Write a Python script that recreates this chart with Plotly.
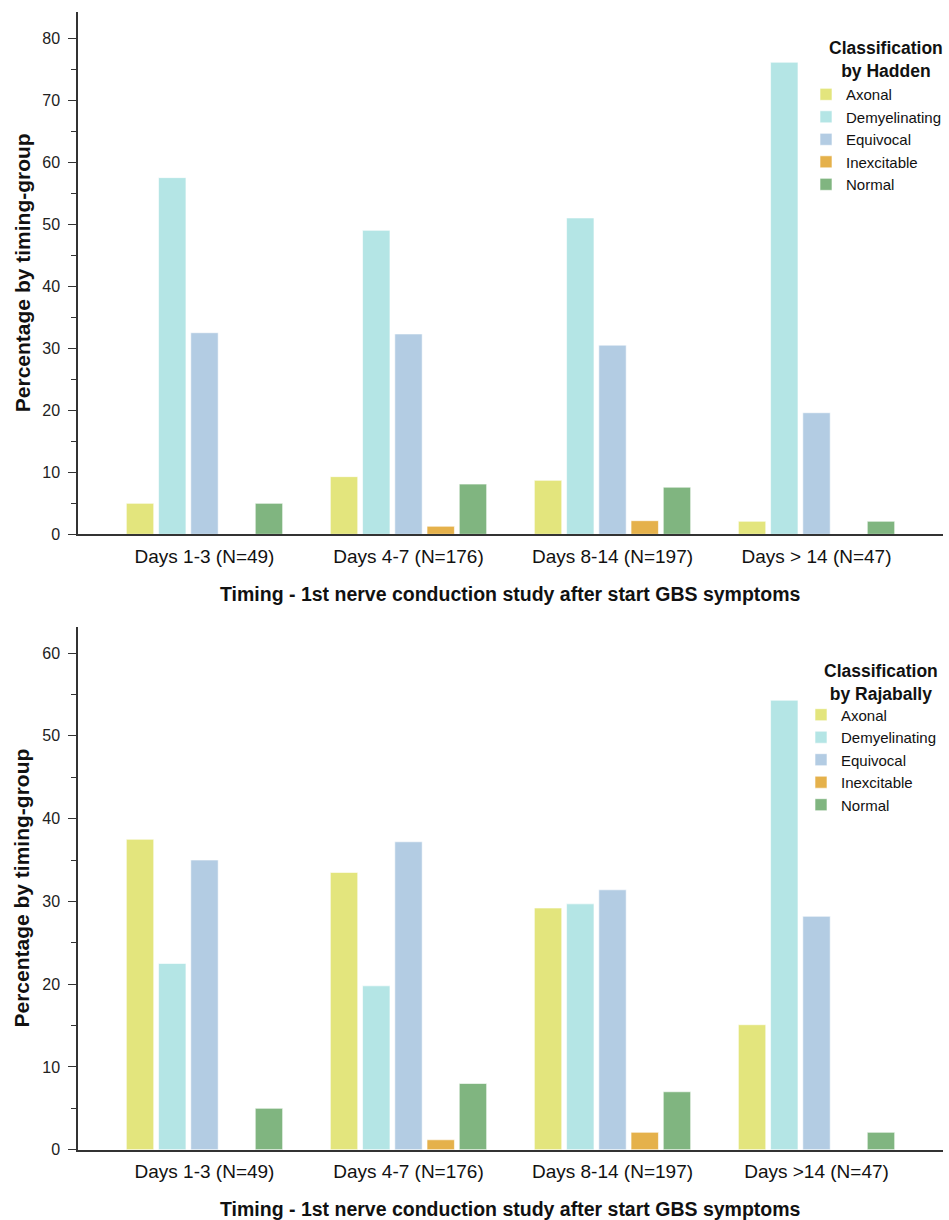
import plotly.graph_objects as go

# ---------------- data ----------------
classes = ["Axonal", "Demyelinating", "Equivocal", "Inexcitable", "Normal"]
colors = ["#E3E57D", "#B4E5E5", "#B3CCE3", "#E5B14B", "#80B580"]

cats_hadden = ["Days 1-3 (N=49)", "Days 4-7 (N=176)", "Days 8-14 (N=197)", "Days > 14 (N=47)"]
cats_rajabally = ["Days 1-3 (N=49)", "Days 4-7 (N=176)", "Days 8-14 (N=197)", "Days >14 (N=47)"]

hadden_axonal = [5.0, 9.3, 8.7, 2.1]
hadden_demyelinating = [57.5, 49.0, 51.0, 76.1]
hadden_equivocal = [32.5, 32.3, 30.5, 19.6]
hadden_inexcitable = [0, 1.3, 2.2, 0]
hadden_normal = [5.0, 8.1, 7.6, 2.1]

raja_axonal = [37.5, 33.5, 29.2, 15.1]
raja_demyelinating = [22.5, 19.8, 29.7, 54.3]
raja_equivocal = [35.0, 37.2, 31.4, 28.2]
raja_inexcitable = [0, 1.2, 2.1, 0]
raja_normal = [5.0, 8.0, 7.0, 2.1]

hadden = [hadden_axonal, hadden_demyelinating, hadden_equivocal, hadden_inexcitable, hadden_normal]
raja = [raja_axonal, raja_demyelinating, raja_equivocal, raja_inexcitable, raja_normal]

x_title = "Timing - 1st nerve conduction study after start GBS symptoms"
y_title = "Percentage by timing-group"
legend_title_top = "Classification<br>by Hadden"
legend_title_bottom = "Classification<br>by Rajabally"

# ---------------- figure ----------------
W, H = 949, 1220
VS = 0.992  # observed vertical scale of the rendered page
FONT = "Liberation Sans, Arial, Helvetica, sans-serif"

fig = go.Figure()
for name, col, vals in zip(classes, colors, hadden):
    fig.add_trace(go.Bar(x=cats_hadden, y=vals, name=name, marker_color=col,
                         marker_line=dict(color="rgba(255,255,255,0.6)", width=1),
                         xaxis="x", yaxis="y", legend="legend"))
for name, col, vals in zip(classes, colors, raja):
    fig.add_trace(go.Bar(x=cats_rajabally, y=vals, name=name, marker_color=col,
                         marker_line=dict(color="rgba(255,255,255,0.6)", width=1),
                         xaxis="x2", yaxis="y2", legend="legend2"))

def px_y(p):
    return 1 - (p / VS) / H

xdom = [78 / W, 943 / W]
axis_line = dict(showline=True, linecolor="#333333", linewidth=1.5)

yaxis_common = dict(
    **axis_line, showgrid=False, zeroline=False,
    ticks="outside", ticklen=8, tickwidth=1, tickcolor="#333333",
    dtick=10, tick0=0,
    minor=dict(ticks="outside", ticklen=5, dtick=5, tickcolor="#333333", tickwidth=1),
    tickfont=dict(size=16, color="#222222", family=FONT),
    ticklabelstandoff=5,
)
xaxis_common = dict(
    **axis_line, showgrid=False, zeroline=False, ticks="",
    tickfont=dict(size=19, color="#111111", family=FONT),
    ticklabelstandoff=4,
    range=[-0.62, 3.62], domain=xdom,
)

legend_common = dict(
    xanchor="left", yanchor="top",
    font=dict(size=15, family=FONT, color="#111111"),
    bgcolor="rgba(0,0,0,0)", itemclick=False, tracegroupgap=0,
)

fig.update_layout(
    width=W, height=H, autosize=False,
    margin=dict(l=0, r=0, t=0, b=0),
    paper_bgcolor="white", plot_bgcolor="white",
    font=dict(family=FONT, color="#111111"),
    barmode="group", bargap=0.21, bargroupgap=0.15,
    xaxis=dict(**xaxis_common, anchor="y"),
    yaxis=dict(**yaxis_common, domain=[px_y(534), px_y(12)], range=[0, 84.2], anchor="x"),
    xaxis2=dict(**xaxis_common, anchor="y2"),
    yaxis2=dict(**yaxis_common, domain=[px_y(1149), px_y(627)], range=[0, 63.1], anchor="x2"),
    legend=dict(**legend_common, x=806 / W, y=px_y(78)),
    legend2=dict(**legend_common, x=801 / W, y=px_y(698)),
    showlegend=True,
)

# legend titles
leg_font = dict(size=17.5, family=FONT, color="#111111")
fig.add_annotation(text="<b>" + legend_title_top + "</b>", xref="paper", yref="paper",
                   x=886 / W, y=px_y(59), xanchor="center", yanchor="middle",
                   align="center", showarrow=False, font=leg_font)
fig.add_annotation(text="<b>" + legend_title_bottom + "</b>", xref="paper", yref="paper",
                   x=881 / W, y=px_y(682), xanchor="center", yanchor="middle",
                   align="center", showarrow=False, font=leg_font)

ann_font = dict(size=19.5, family=FONT, color="#111111")
yt_font = dict(size=21, family=FONT, color="#111111")
for ty, yc in [(594, (12 + 534) / 2), (1208, (627 + 1149) / 2)]:
    fig.add_annotation(text="<b>" + x_title + "</b>", xref="paper", yref="paper",
                       x=(78 + 943) / 2 / W, y=px_y(ty), xanchor="center", yanchor="middle",
                       showarrow=False, font=ann_font)
    fig.add_annotation(text="<b>" + y_title + "</b>", xref="paper", yref="paper",
                       x=22 / W, y=px_y(yc), xanchor="center", yanchor="middle",
                       textangle=-90, showarrow=False, font=yt_font)

post = ("document.documentElement.style.margin='0';"
        "document.documentElement.style.padding='0';"
        "document.documentElement.style.overflow='hidden';"
        "document.body.style.margin='0';"
        "document.body.style.padding='0';"
        "document.body.style.overflow='hidden';")

fig.write_html("out.html",
               config={"displayModeBar": False, "responsive": False},
               post_script=post)
